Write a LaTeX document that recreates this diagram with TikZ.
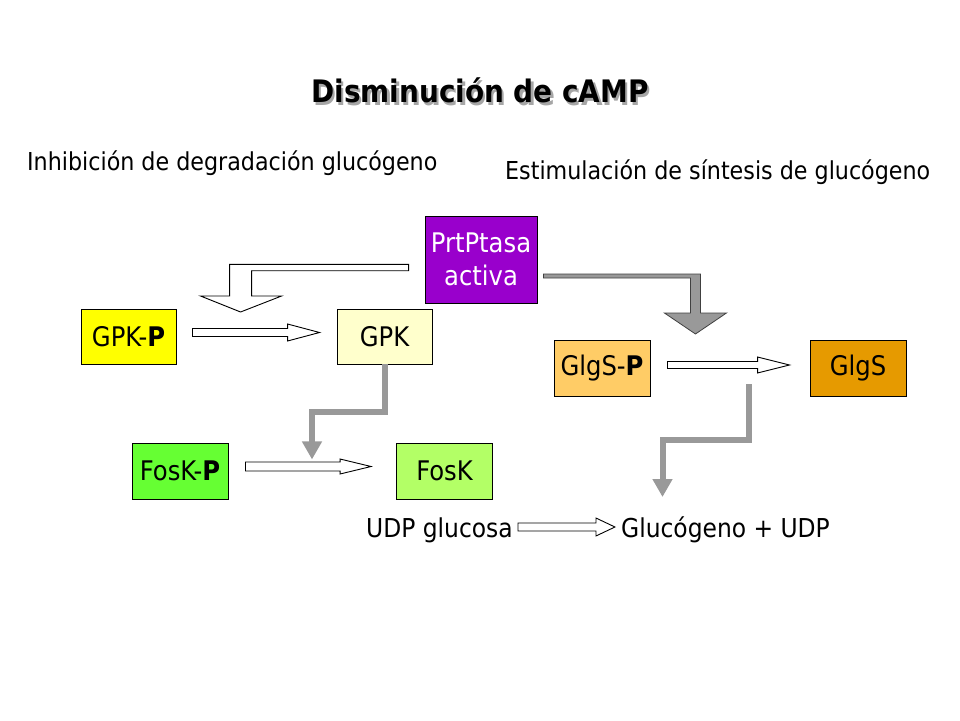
\documentclass[tikz,border=0pt]{standalone}
\usepackage{fontspec}
\setmainfont{DejaVu Sans Condensed}
\usetikzlibrary{calc,arrows.meta}
\definecolor{ptasacol}{HTML}{9900CC}
\definecolor{gpkpcol}{HTML}{FFFF00}
\definecolor{gpkcol}{HTML}{FFFFCC}
\definecolor{glgspcol}{HTML}{FFCC66}
\definecolor{glgscol}{HTML}{E69A00}
\definecolor{foskpcol}{HTML}{66FF33}
\definecolor{foskcol}{HTML}{B3FF66}
\definecolor{arrgray}{HTML}{999999}
\tikzset{
  box/.style={draw=black, line width=0.9pt, minimum width=95pt, minimum height=55pt,
    inner sep=0pt, align=center, font=\fontsize{27}{32}\selectfont},
  lbl/.style={inner sep=0pt, font=\fontsize{24.7}{30}\selectfont},
  hollow/.style={draw=black, fill=white, line width=0.9pt, line join=miter},
  grayblock/.style={draw=black!75, fill=arrgray, line width=0.8pt, line join=miter},
  grayline/.style={draw=arrgray, line width=6pt, line join=miter,
    -{Triangle[width=19pt,length=18pt]}},
}
\newcommand\shadowtext[1]{\leavevmode\rlap{\kern2.5pt\raisebox{-2.5pt}{\textcolor{black!35}{#1}}}#1}
% straight hollow block arrow: #1 start, #2 tip, #3 shaft half, #4 head half, #5 head length
\newcommand\hollowarrow[5]{%
  \path[hollow] let \p1=(#1), \p2=(#2) in
    (\x1,\y1+#3pt) -- (\x2-#5pt,\y1+#3pt) -- (\x2-#5pt,\y1+#4pt) -- (\x2,\y1)
    -- (\x2-#5pt,\y1-#4pt) -- (\x2-#5pt,\y1-#3pt) -- (\x1,\y1-#3pt) -- cycle;}
\begin{document}
\begin{tikzpicture}[x=1pt,y=-1pt]
\useasboundingbox (0,0) rectangle (960,720);
% titles
\node[lbl, font=\fontsize{31}{36}\selectfont\bfseries] (title) at (480,92) {\shadowtext{Disminución de cAMP}};
\node[lbl, anchor=west] (inh) at (27,163) {Inhibición de degradación glucógeno};
\node[lbl, anchor=west] (est) at (505,172) {Estimulación de síntesis de glucógeno};
% boxes
\node[box, fill=ptasacol, text=white, minimum width=112pt, minimum height=87pt,
  font=\fontsize{27}{33}\selectfont] (ptasa) at (481,259.5) {PrtPtasa\\activa};
\node[box, fill=gpkpcol] (gpkp) at (128.5,336.5) {GPK-\textbf{P}};
\node[box, fill=gpkcol] (gpk) at (384.5,336.5) {GPK};
\node[box, fill=glgspcol, minimum width=96pt, minimum height=56pt] (glgsp) at (602,368) {GlgS-\textbf{P}};
\node[box, fill=glgscol, minimum width=96pt, minimum height=56pt] (glgs) at (858,368) {GlgS};
\node[box, fill=foskpcol, minimum width=96pt, minimum height=56pt] (foskp) at (180,471) {FosK-\textbf{P}};
\node[box, fill=foskcol, minimum width=96pt, minimum height=56pt] (fosk) at (444.5,471) {FosK};
\node[lbl, font=\fontsize{26}{30}\selectfont] (udp) at (439.5,530) {UDP glucosa};
\node[lbl, font=\fontsize{26}{30}\selectfont] (gluc) at (725.5,530) {Glucógeno + UDP};
% hollow straight arrows
\hollowarrow{$(gpkp.east)+(16,-4)$}{$(gpk.west)+(-17,-4)$}{4}{8.5}{32}
\hollowarrow{$(glgsp.east)+(17,-3)$}{$(glgs.west)+(-20,-3)$}{3.5}{8}{32}
\hollowarrow{$(foskp.east)+(17,-4.5)$}{$(fosk.west)+(-25,-4.5)$}{4.5}{7.5}{31}
\hollowarrow{$(udp.east)+(5,-3)$}{$(gluc.west)+(-6,-3)$}{4}{9}{19}
% hollow bent arrow from PrtPtasa
\draw[hollow] ($(ptasa.west)+(-16,4.8)$) -- ++(-179,0) -- ++(0,31.7) -- ++(-29,0)
  -- ++(40,16) -- ++(41,-16) -- ++(-30,0) -- ++(0,-25.3) -- ++(157,0) -- cycle;
% gray bent arrow from PrtPtasa
\draw[grayblock] ($(ptasa.east)+(6,14.5)$) -- ++(157,0) -- ++(0,39) -- ++(26,0)
  -- ++(-31,21) -- ++(-31,-21) -- ++(26,0) -- ++(0,-35) -- ++(-147,0) -- cycle;
% gray elbow lines
\coordinate (ltip) at ($(gpk.south)+(-72.5,95)$);
\draw[grayline] (gpk.south) -- ++(0,47.5) -| (ltip);
\coordinate (rstart) at (748.5,384);
\coordinate (rtip) at (662.5,497);
\draw[grayline] (rstart) -- ++(0,55.5) -| (rtip);
\end{tikzpicture}
\end{document}
